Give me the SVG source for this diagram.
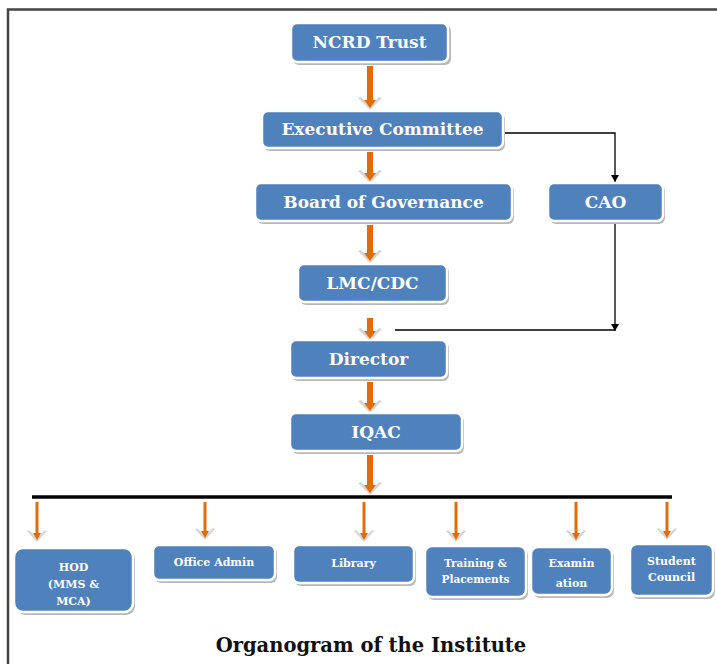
<svg xmlns="http://www.w3.org/2000/svg" width="717" height="664" viewBox="0 0 717 664">
<style>
.box{fill:#4f81bd;stroke:#ffffff;stroke-width:2.5}
.sh{fill:#b8b8b8}
.t{font-family:"DejaVu Serif","Liberation Serif",serif;font-weight:bold;fill:#ffffff;text-anchor:middle}
.big{font-size:17px}
.sm{font-size:11px}
.oa{stroke:#e36c0a;stroke-width:6;fill:none}
.oas{stroke:#e36c0a;stroke-width:3;fill:none}
.bl{stroke:#000000;stroke-width:1.3;fill:none}
</style>
<defs>
<marker id="oh" markerUnits="userSpaceOnUse" viewBox="-13 -12 26 16" refX="0" refY="-7" markerWidth="26" markerHeight="16" orient="0">
<path d="M-12,-10 L0,2 L12,-10 L9,-11 L0,-2 L-9,-11 Z" fill="#d6d6d6"/>
<path d="M-6,-8 L6,-8 L0,0 Z" fill="#e36c0a"/>
</marker>
<marker id="ohs" markerUnits="userSpaceOnUse" viewBox="-11 -11 22 14" refX="0" refY="-6" markerWidth="22" markerHeight="14" orient="0">
<path d="M-10,-9 L0,2 L10,-9 L8,-10 L0,-2 L-8,-10 Z" fill="#d6d6d6"/>
<path d="M-4,-7 L4,-7 L0,0 Z" fill="#e36c0a"/>
</marker>
<marker id="bh" markerUnits="userSpaceOnUse" viewBox="-5 -8 10 9" refX="0" refY="0" markerWidth="10" markerHeight="9" orient="0">
<path d="M-4,-7 L4,-7 L0,0 Z" fill="#000000"/>
</marker>
</defs>
<rect width="717" height="664" fill="#ffffff"/>
<path d="M8,664 L8,9.5 L717,9.5" fill="none" stroke="#444444" stroke-width="2.5"/>

<g id="connectors">
<line class="oa" x1="370" y1="66" x2="370" y2="101" marker-end="url(#oh)"/>
<line class="oa" x1="370" y1="152" x2="370" y2="174" marker-end="url(#oh)"/>
<line class="oa" x1="370" y1="225" x2="370" y2="254" marker-end="url(#oh)"/>
<line class="oa" x1="370" y1="318" x2="370" y2="332" marker-end="url(#oh)"/>
<line class="oa" x1="370" y1="382" x2="370" y2="404" marker-end="url(#oh)"/>
<line class="oa" x1="370" y1="455" x2="370" y2="486" marker-end="url(#oh)"/>
<line x1="32" y1="497" x2="672" y2="497" stroke="#000" stroke-width="3.5"/>
<line class="oas" x1="37" y1="502" x2="37" y2="534" marker-end="url(#ohs)"/>
<line class="oas" x1="205" y1="502" x2="205" y2="532" marker-end="url(#ohs)"/>
<line class="oas" x1="364" y1="502" x2="364" y2="534" marker-end="url(#ohs)"/>
<line class="oas" x1="456" y1="502" x2="456" y2="534" marker-end="url(#ohs)"/>
<line class="oas" x1="576" y1="502" x2="576" y2="534" marker-end="url(#ohs)"/>
<line class="oas" x1="667" y1="502" x2="667" y2="532" marker-end="url(#ohs)"/>
<path class="bl" d="M503,133 L615,133 L615,182" marker-end="url(#bh)"/>
<path class="bl" d="M615,222 L615,331" marker-end="url(#bh)"/>
<line class="bl" x1="395" y1="330" x2="615" y2="330"/>
</g>

<g id="ncrd">
<rect class="sh" x="293" y="25" width="158" height="40" rx="6"/>
<rect class="box" x="291" y="23" width="157" height="39" rx="6"/>
<text class="t big" x="369.5" y="48">NCRD Trust</text>
</g>
<g id="exec">
<rect class="sh" x="264" y="113" width="241" height="38" rx="6"/>
<rect class="box" x="262" y="111" width="241" height="37" rx="6"/>
<text class="t big" x="382.5" y="135">Executive Committee</text>
</g>
<g id="board">
<rect class="sh" x="257" y="185" width="257" height="39" rx="6"/>
<rect class="box" x="255" y="183" width="257" height="38" rx="6"/>
<text class="t big" x="383.5" y="208">Board of Governance</text>
</g>
<g id="cao">
<rect class="sh" x="550" y="185" width="115" height="39" rx="6"/>
<rect class="box" x="548" y="183" width="115" height="38" rx="6"/>
<text class="t big" x="605.5" y="208">CAO</text>
</g>
<g id="lmc">
<rect class="sh" x="300" y="266" width="149" height="39" rx="6"/>
<rect class="box" x="298" y="264" width="149" height="38" rx="6"/>
<text class="t big" x="372.5" y="289">LMC/CDC</text>
</g>
<g id="director">
<rect class="sh" x="292" y="342" width="157" height="39" rx="6"/>
<rect class="box" x="290" y="340" width="157" height="38" rx="6"/>
<text class="t big" x="368.5" y="365">Director</text>
</g>
<g id="iqac">
<rect class="sh" x="292" y="415" width="172" height="39" rx="6"/>
<rect class="box" x="290" y="413" width="172" height="38" rx="6"/>
<text class="t big" x="376" y="438">IQAC</text>
</g>

<g id="hod">
<rect class="sh" x="16" y="550" width="119" height="65" rx="9"/>
<rect class="box" x="14" y="548" width="119" height="64" rx="9"/>
<text class="t sm" x="73.5" y="571">HOD</text>
<text class="t sm" x="73.5" y="588">(MMS &amp;</text>
<text class="t sm" x="73.5" y="605">MCA)</text>
</g>
<g id="office">
<rect class="sh" x="155" y="547" width="122" height="36" rx="6"/>
<rect class="box" x="153" y="545" width="122" height="35" rx="6"/>
<text class="t sm" x="214" y="566">Office Admin</text>
</g>
<g id="library">
<rect class="sh" x="295" y="547" width="121" height="39" rx="6"/>
<rect class="box" x="293" y="545" width="121" height="38" rx="6"/>
<text class="t sm" x="353.5" y="567">Library</text>
</g>
<g id="training">
<rect class="sh" x="427" y="548" width="101" height="52" rx="7"/>
<rect class="box" x="425" y="546" width="101" height="51" rx="7"/>
<text class="t" font-size="10.5" x="475.5" y="567">Training &amp;</text>
<text class="t" font-size="10.5" x="475.5" y="583">Placements</text>
</g>
<g id="exam">
<rect class="sh" x="533" y="549" width="81" height="49" rx="7"/>
<rect class="box" x="531" y="547" width="81" height="48" rx="7"/>
<text class="t sm" x="571.5" y="567">Examin</text>
<text class="t sm" x="571.5" y="587">ation</text>
</g>
<g id="student">
<rect class="sh" x="632" y="546" width="83" height="53" rx="7"/>
<rect class="box" x="630" y="544" width="83" height="52" rx="7"/>
<text class="t sm" x="671.5" y="565">Student</text>
<text class="t sm" x="671.5" y="581">Council</text>
</g>

<text x="371" y="652" font-family="'DejaVu Serif','Liberation Serif',serif" font-weight="bold" font-size="19.5" fill="#111" text-anchor="middle">Organogram of the Institute</text>
</svg>
